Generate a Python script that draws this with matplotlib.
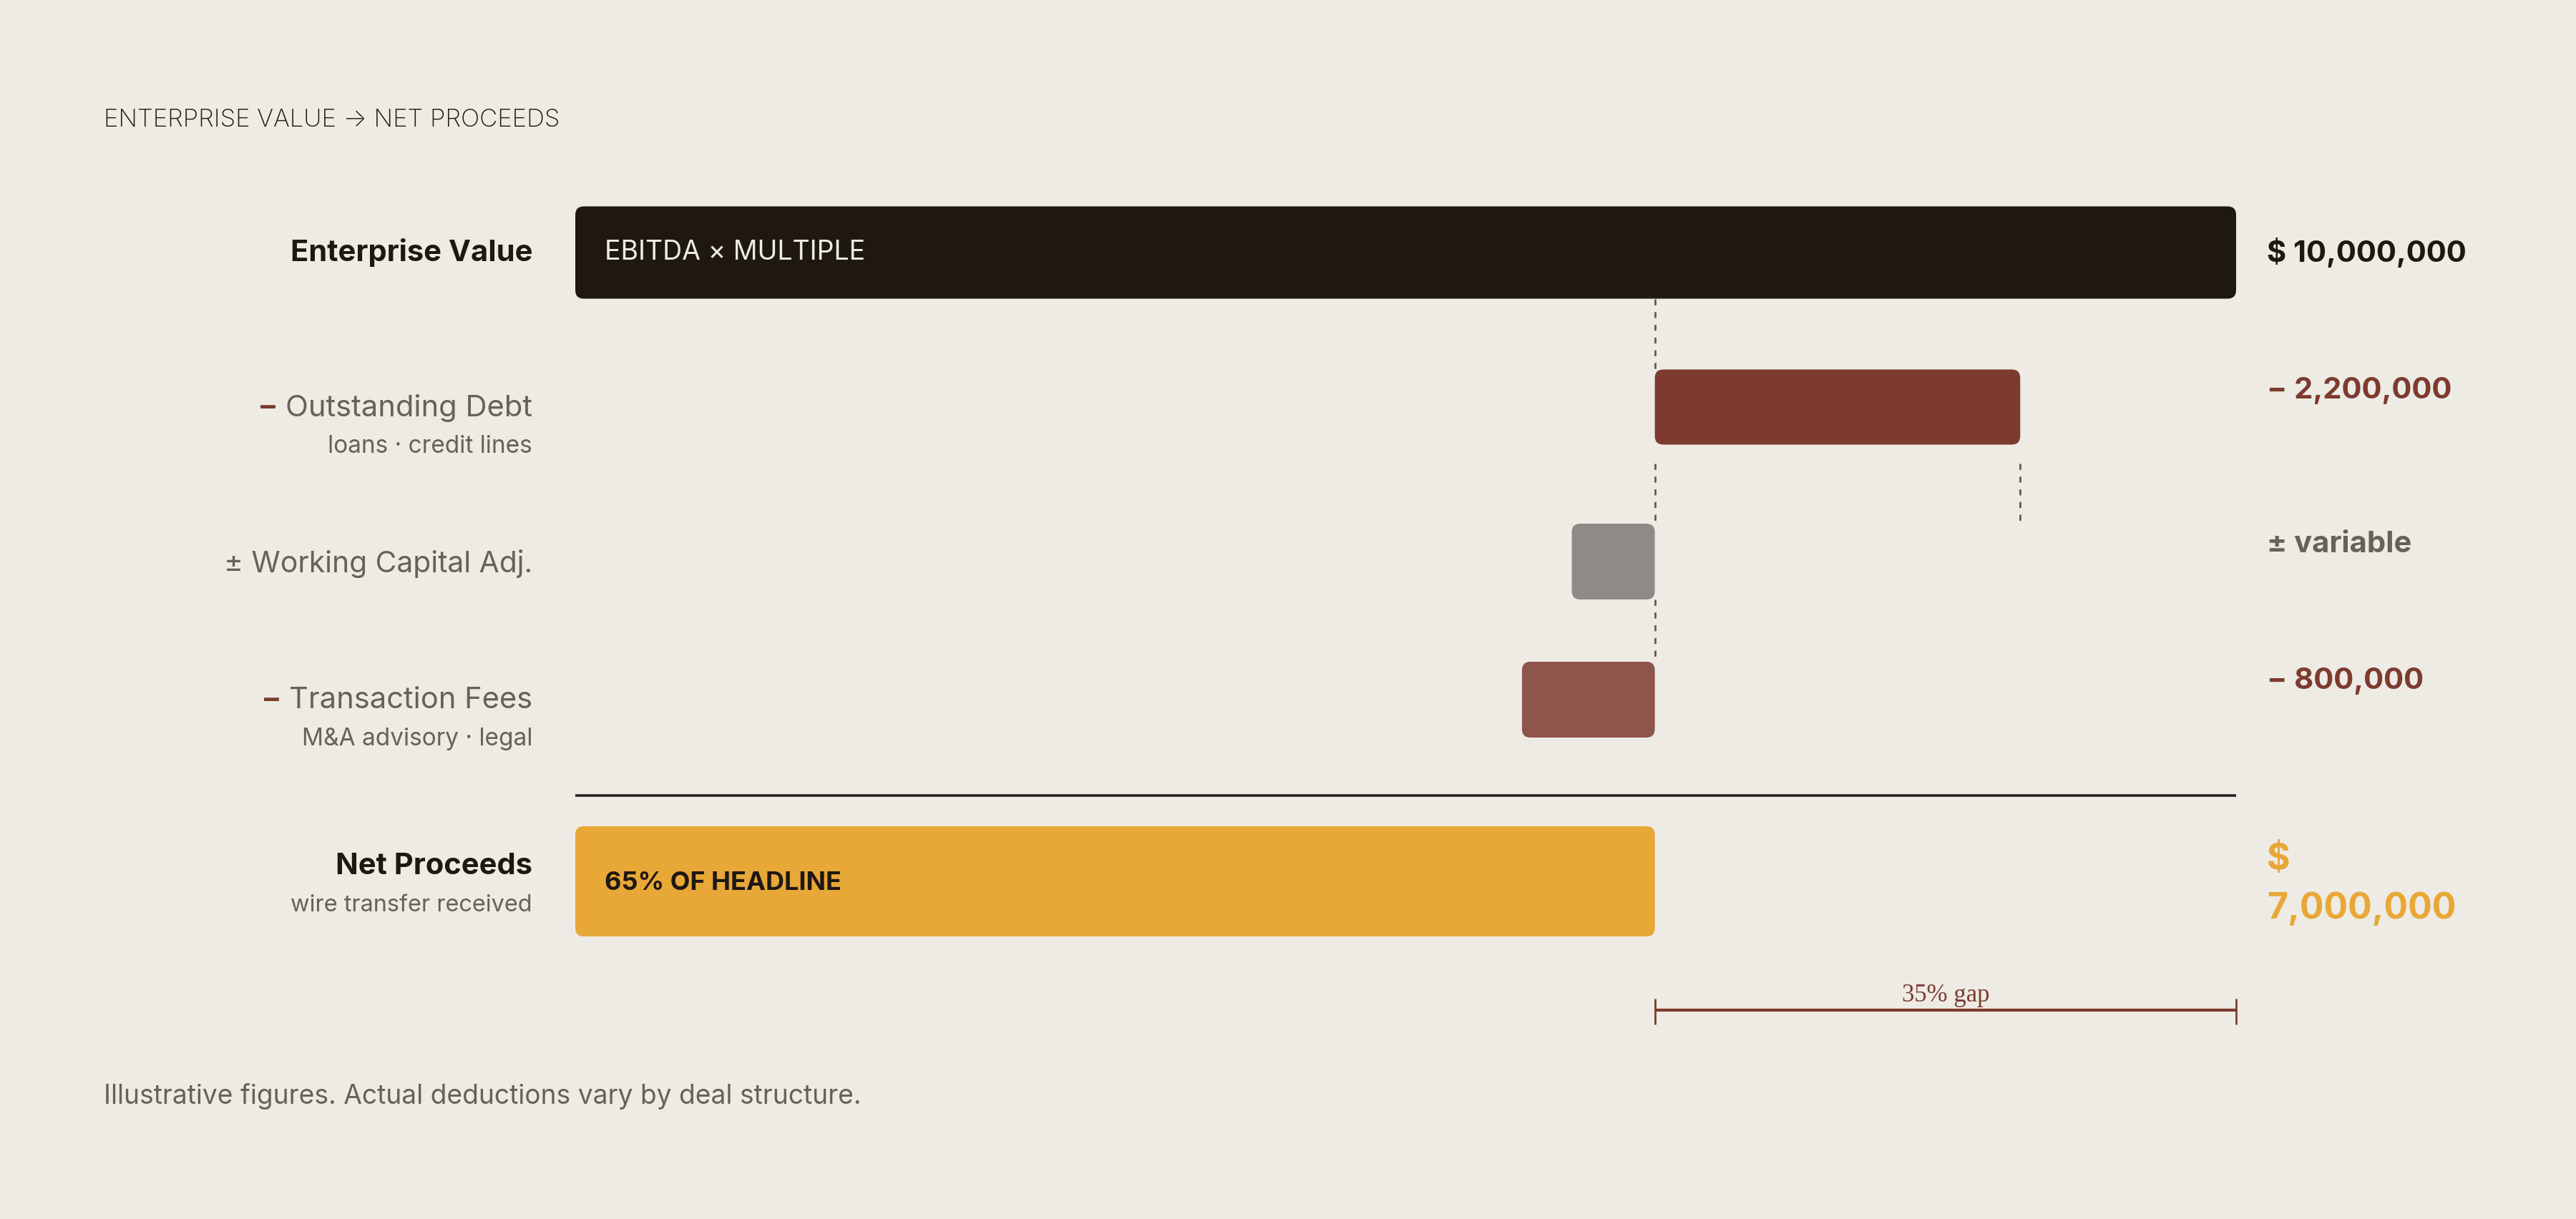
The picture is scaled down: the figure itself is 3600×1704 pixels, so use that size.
import matplotlib
matplotlib.use("Agg")
import matplotlib.pyplot as plt
from matplotlib.patches import FancyBboxPatch

# ---------------- data ----------------
categories = ["Enterprise Value", "Outstanding Debt", "Working Capital Adj.",
              "Transaction Fees", "Net Proceeds"]
prefixes = ["", "–", "±", "–", ""]
sublabels = ["", "loans · credit lines", "", "M&A advisory · legal", "wire transfer received"]
bar_start = [0, 6_500_000, 6_000_000, 5_700_000, 0]
bar_value = [10_000_000, 2_200_000, 500_000, 800_000, 6_500_000]
value_labels = ["$ 10,000,000", "− 2,200,000", "± variable", "− 800,000", "$\n7,000,000"]
inside_labels = ["EBITDA × MULTIPLE", "", "", "", "65% OF HEADLINE"]
gap_label = "35% gap"
gap_range = [6_500_000, 10_000_000]
title = "ENTERPRISE VALUE → NET PROCEEDS"
footnote = "Illustrative figures. Actual deductions vary by deal structure."

# ---------------- style ----------------
W, H = 3600, 1704
DPI = 200
BG = "#EEEBE5"
DARK = "#1F1712"
GREY = "#67615B"
RED = "#7D3B30"
GOLD = "#E8A838"
bar_colors = ["#1F1712", "#7D3B30", "#8F8A85", "#8E554A", "#E8A838"]
value_colors = [DARK, RED, GREY, RED, GOLD]
FONT = ["Inter", "DejaVu Sans"]
plt.rcParams["font.family"] = FONT

# layout (pixels)
X_ZERO_PX, X_FULL_PX = 804, 3125
row_center = [353, 569, 785, 978, 1232]
row_height = [129, 105, 106, 106, 154]
label_y = [353, 570, 788, 979, 1211]
value_y = [353, 546, 761, 952, 1236]

fig = plt.figure(figsize=(W / DPI, H / DPI), dpi=DPI, facecolor=BG)
ax = fig.add_axes([0, 0, 1, 1])
ax.set_facecolor(BG)
ax.axis("off")

dollars_per_px = bar_value[0] / (X_FULL_PX - X_ZERO_PX)
x0 = -X_ZERO_PX * dollars_per_px
ax.set_xlim(x0, x0 + W * dollars_per_px)
ax.set_ylim(H, 0)

def fx(px):
    return px / W

def fy(py):
    return 1 - py / H

radius_px = 12
for i in range(len(categories)):
    y = row_center[i] - row_height[i] / 2
    p = FancyBboxPatch((bar_start[i], y), bar_value[i], row_height[i],
                       boxstyle=f"round,pad=0,rounding_size={radius_px * dollars_per_px}",
                       mutation_aspect=1 / dollars_per_px,
                       facecolor=bar_colors[i], edgecolor="none", zorder=3)
    ax.add_patch(p)

# dashed connectors
net_end = bar_start[1]
debt_end = bar_start[1] + bar_value[1]
dash_kw = dict(color="#5F5A55", lw=1.0, dashes=(3.0, 3.4), zorder=2)
def top(i):
    return row_center[i] - row_height[i] / 2
def bot(i):
    return row_center[i] + row_height[i] / 2
ax.plot([net_end, net_end], [bot(0), top(1)], **dash_kw)
ax.plot([net_end, net_end], [bot(1) + 26, top(2)], **dash_kw)
ax.plot([debt_end, debt_end], [bot(1) + 26, top(2) - 2], **dash_kw)
ax.plot([net_end, net_end], [bot(2), top(3)], **dash_kw)

# separator
ax.plot([0, bar_value[0]], [1112, 1112], color="#2A2420", lw=1.3, zorder=2,
        solid_capstyle="butt")

# gap bracket
ax.plot(gap_range, [1412, 1412], color=RED, lw=1.5, solid_capstyle="butt")
for gx in gap_range:
    ax.plot([gx, gx], [1396, 1432], color=RED, lw=1.0, solid_capstyle="butt")
ax.text(sum(gap_range) / 2, 1400, gap_label, ha="center", va="baseline",
        fontsize=12.5, color=RED, family=["Liberation Serif", "DejaVu Serif"])

# title / footnote
fig.text(fx(145), fy(168), title, ha="left", va="center", fontsize=12.5,
         color=DARK, family=FONT, fontweight="light")
fig.text(fx(145), fy(1533), footnote, ha="left", va="center", fontsize=13.4,
         color=GREY, family=FONT)

fig.canvas.draw()
renderer = fig.canvas.get_renderer()

# left labels
for i, name in enumerate(categories):
    bold = i in (0, 4)
    main = name if prefixes[i] != "±" else "± " + name
    t = fig.text(fx(744), fy(label_y[i]), main, ha="right", va="center",
                 fontsize=15 if prefixes[i] != "±" else 14.7,
                 fontweight="bold" if bold else "normal",
                 color=DARK if bold else GREY, family=FONT)
    if prefixes[i] == "–":
        bb = t.get_window_extent(renderer)
        fig.text((bb.x0 - 14) / W, fy(label_y[i]), "–", ha="right", va="center",
                 fontsize=15, fontweight="bold", color=RED, family=FONT)
    if sublabels[i]:
        fig.text(fx(744), fy(label_y[i] + 54), sublabels[i], ha="right", va="center",
                 fontsize=12 if i != 4 else 11.7, color=GREY, family=FONT)

# right values
for i, v in enumerate(value_labels):
    gold = i == 4
    fig.text(fx(3168), fy(value_y[i]), v, ha="left", va="center",
             fontsize=18 if gold else 15, fontweight="bold",
             color=value_colors[i], family=FONT, linespacing=1.6)

# inside labels
ax.text(bar_start[0] + 41 * dollars_per_px, row_center[0], inside_labels[0],
        ha="left", va="center", fontsize=13.5, color=BG, zorder=4)
ax.text(bar_start[4] + 41 * dollars_per_px, row_center[4] + 2, inside_labels[4],
        ha="left", va="center", fontsize=13, fontweight="bold", color=DARK, zorder=4)

fig.savefig("out.png", dpi=DPI, facecolor=BG)
